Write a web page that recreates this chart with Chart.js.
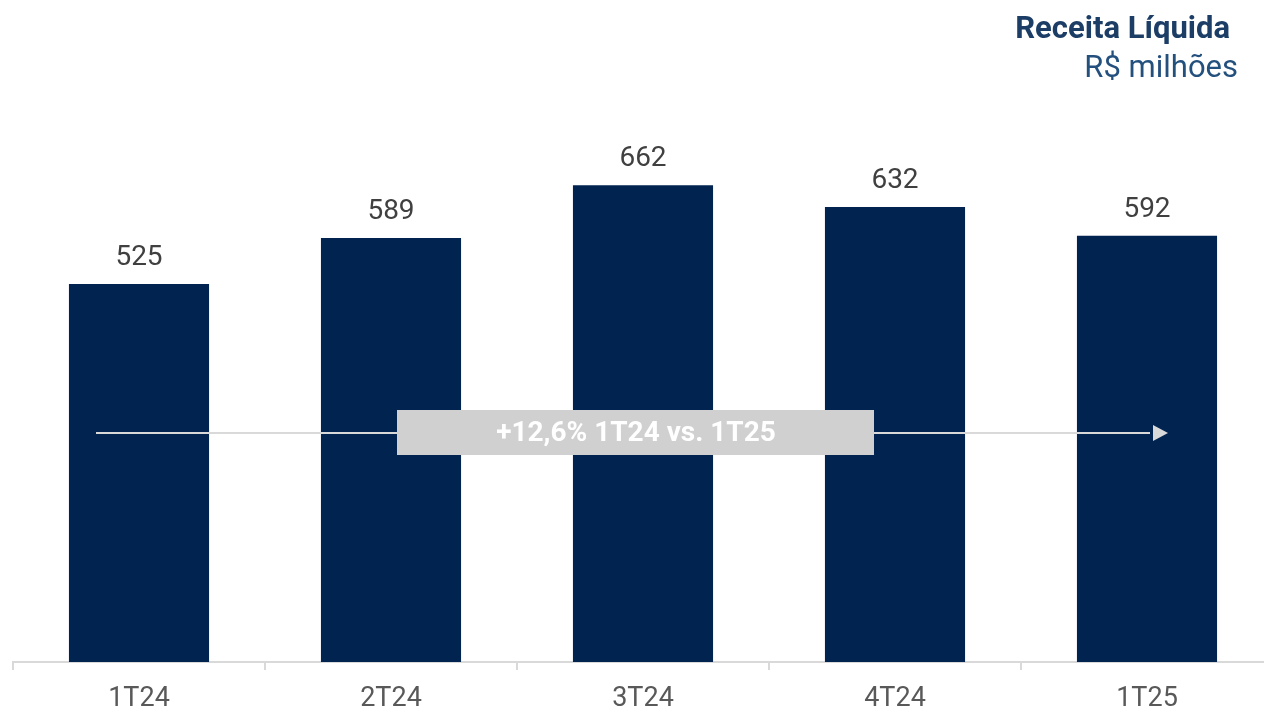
<!DOCTYPE html>
<html>
<head>
<meta charset="utf-8">
<script src="https://cdn.jsdelivr.net/npm/chart.js@4/dist/chart.umd.min.js"></script>
<style>
html,body{margin:0;padding:0;background:#fff;overflow:hidden;}
#wrap{position:relative;width:1290px;height:709px;}
</style>
</head>
<body>
<div id="wrap"><canvas id="c"></canvas></div>
<script>
const categories = ['1T24','2T24','3T24','4T24','1T25'];
const receita = [525, 589, 662, 632, 592];
const titleMain = 'Receita Líquida';
const titleSub = 'R$ milhões';
const growthLabel = '+12,6% 1T24 vs. 1T25';

const FONT = 'Roboto, "Open Sans", sans-serif';

const overlay = {
  id: 'overlay',
  afterDatasetsDraw(chart) {
    const ctx = chart.ctx;
    const meta = chart.getDatasetMeta(0);
    ctx.save();
    // value labels
    ctx.font = '28px ' + FONT;
    ctx.fillStyle = '#404040';
    ctx.textAlign = 'center';
    ctx.textBaseline = 'alphabetic';
    meta.data.forEach((bar, i) => {
      ctx.fillText(String(receita[i]), bar.x, bar.y - 19);
    });
    // arrow
    const x0 = meta.data[0].x - 43;
    const x1 = meta.data[meta.data.length - 1].x + 3;
    const ay = 433;
    ctx.strokeStyle = '#d9d9d9';
    ctx.lineWidth = 2;
    ctx.beginPath();
    ctx.moveTo(x0, ay);
    ctx.lineTo(x1, ay);
    ctx.stroke();
    ctx.fillStyle = '#d9d9d9';
    ctx.beginPath();
    ctx.moveTo(x1 + 18, ay);
    ctx.lineTo(x1 + 3, ay - 8);
    ctx.lineTo(x1 + 3, ay + 8);
    ctx.closePath();
    ctx.fill();
    // label box
    const cx = (meta.data[1].x + meta.data[3].x) / 2 - 7;
    ctx.fillStyle = '#d0d0d0';
    ctx.fillRect(cx - 239, 410, 477, 45);
    ctx.fillStyle = '#ffffff';
    ctx.font = 'bold 28px ' + FONT;
    ctx.textBaseline = 'middle';
    ctx.fillText(growthLabel, cx, 434);
    // title
    ctx.textAlign = 'right';
    ctx.textBaseline = 'alphabetic';
    ctx.fillStyle = '#1b3d66';
    ctx.font = 'bold 31px ' + FONT;
    ctx.fillText(titleMain, 1230, 38);
    ctx.fillStyle = '#24507e';
    ctx.font = '31px ' + FONT;
    ctx.fillText(titleSub, 1238, 77);
    ctx.restore();
  }
};

new Chart(document.getElementById('c'), {
  type: 'bar',
  data: {
    labels: categories,
    datasets: [{
      data: receita,
      backgroundColor: '#002350',
      barPercentage: 0.556,
      categoryPercentage: 1.0
    }]
  },
  options: {
    responsive: true,
    maintainAspectRatio: false,
    animation: false,
    layout: { padding: { left: 13, right: 17, top: 86, bottom: 0 } },
    plugins: { legend: { display: false }, tooltip: { enabled: false }, title: { display: false } },
    scales: {
      x: {
        afterFit(scale) { scale.height = 47; },
        border: { display: true, color: '#d9d9d9', width: 2 },
        grid: { display: true, drawOnChartArea: false, drawTicks: true, tickLength: 8, color: '#d9d9d9', lineWidth: 2, offset: true },
        ticks: { color: '#595959', font: { family: FONT, size: 27 }, padding: 13 }
      },
      y: {
        display: false,
        min: 0,
        max: 800
      }
    }
  },
  plugins: [overlay]
});
</script>
</body>
</html>
